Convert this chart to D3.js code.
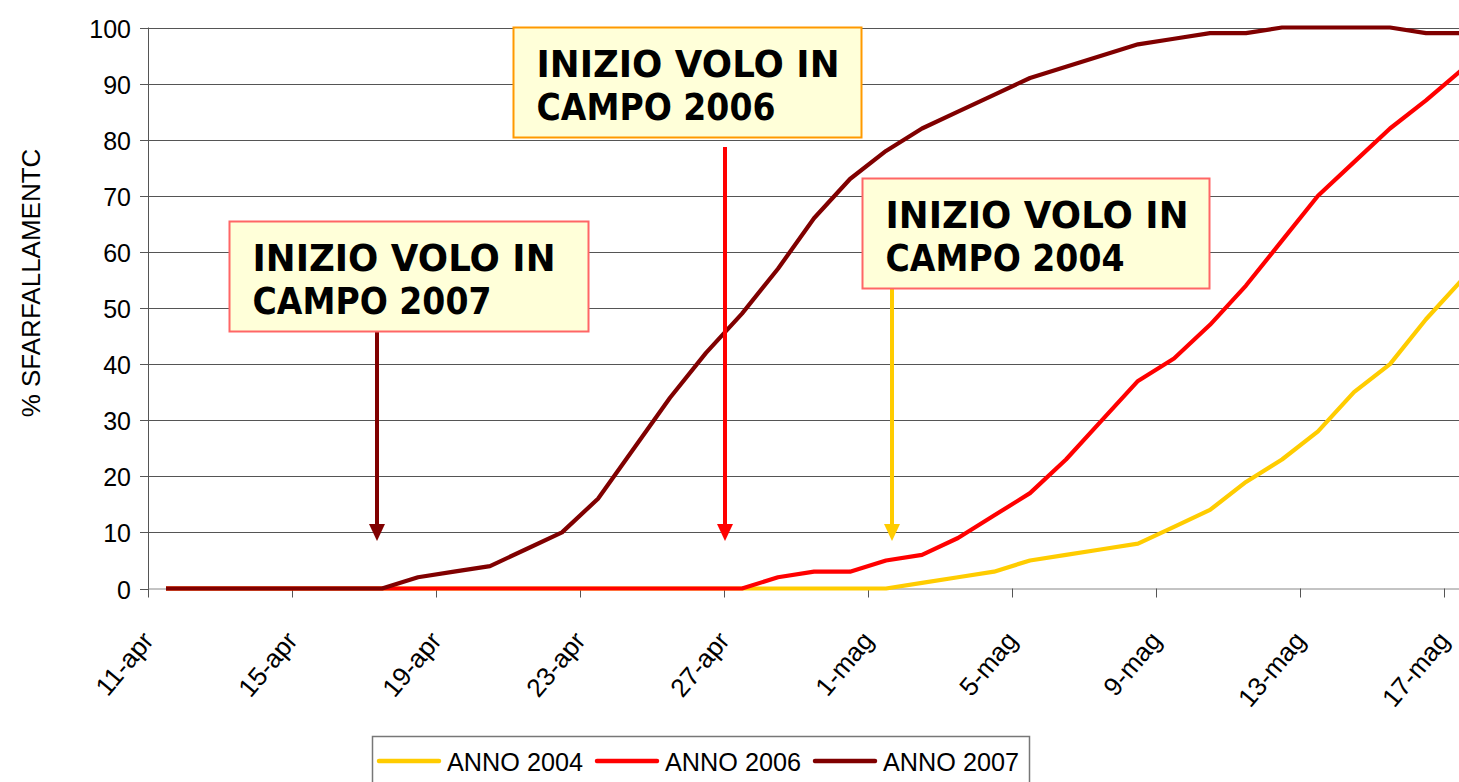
<!DOCTYPE html>
<html>
<head>
<meta charset="utf-8">
<script src="https://cdn.jsdelivr.net/npm/d3@7"></script>
<style>
  html, body { margin: 0; padding: 0; background: #ffffff; }
  svg { display: block; }
</style>
</head>
<body>
<div id="chart"></div>
<script>
// ---------- DATA ----------
const dates = [
  "11-apr","12-apr","13-apr","14-apr","15-apr","16-apr","17-apr","18-apr","19-apr","20-apr",
  "21-apr","22-apr","23-apr","24-apr","25-apr","26-apr","27-apr","28-apr","29-apr","30-apr",
  "1-mag","2-mag","3-mag","4-mag","5-mag","6-mag","7-mag","8-mag","9-mag","10-mag",
  "11-mag","12-mag","13-mag","14-mag","15-mag","16-mag","17-mag"
];
const anno2004 = [0,0,0,0,0,0,0,0,0,0, 0,0,0,0,0,0,0,0,0,0, 0,1,2,3,5,6,7,8,11,14, 19,23,28,35,40,48,55];
const anno2006 = [0,0,0,0,0,0,0,0,0,0, 0,0,0,0,0,0,0,2,3,3, 5,6,9,13,17,23,30,37,41,47, 54,62,70,76,82,87,92.5];
const anno2007 = [0,0,0,0,0,0,0,2,3,4, 7,10,16,25,34,42,49,57,66,73, 78,82,85,88,91,93,95,97,98,99, 99,100,100,100,100,99,99];
const seriesNames = ["ANNO 2004","ANNO 2006","ANNO 2007"];
const yTicks = [0,10,20,30,40,50,60,70,80,90,100];
const xTickLabels = dates.filter((d, i) => i % 4 === 0);
const yTitle = "% SFARFALLAMENTC";
const noteLines = [
  ["INIZIO VOLO IN", "CAMPO 2007"],
  ["INIZIO VOLO IN", "CAMPO 2006"],
  ["INIZIO VOLO IN", "CAMPO 2004"]
];

// ---------- LAYOUT / STYLE ----------
const W = 1459, H = 782;
const colors = ["#FFCC00", "#FF0000", "#800000"];
const plot = { left: 148, right: 1480, top: 27.5, bottom: 588.5 };
// annotation boxes & arrows (free-floating drawing shapes)
const notes = [
  { box: [229.5, 221.5, 359, 110], border: "#FF6666", arrowX: 377, color: colors[2] },
  { box: [513.5, 27.5, 348, 110], border: "#FF9900", arrowX: 725, color: colors[1], arrowTop: 147 },
  { box: [862.5, 178.5, 347, 110], border: "#FF6666", arrowX: 892, color: colors[0] }
];

const svg = d3.select("#chart").append("svg")
  .attr("width", W).attr("height", H)
  .style("font-family", "'Liberation Sans', Arial, sans-serif");
svg.append("rect").attr("width", W).attr("height", H).attr("fill", "#fff");

const x = d3.scaleBand().domain(dates).range([plot.left, plot.right]).padding(0);
const xc = d => x(d) + x.bandwidth() / 2;
const y = d3.scaleLinear().domain([0, 100]).range([plot.bottom, plot.top]);

// gridlines
svg.append("g").selectAll("line").data(yTicks.filter(t => t > 0)).join("line")
  .attr("x1", plot.left).attr("x2", plot.right)
  .attr("y1", t => Math.round(y(t)) + 0.5).attr("y2", t => Math.round(y(t)) + 0.5)
  .attr("stroke", "#555").attr("stroke-width", 1);

// y axis
const yAxis = svg.append("g");
yAxis.append("line").attr("x1", plot.left + 0.5).attr("x2", plot.left + 0.5)
  .attr("y1", plot.top).attr("y2", plot.bottom + 1).attr("stroke", "#555");
yAxis.selectAll("line.tick").data(yTicks).join("line").attr("class", "tick")
  .attr("x1", plot.left - 8).attr("x2", plot.left)
  .attr("y1", t => Math.round(y(t)) + 0.5).attr("y2", t => Math.round(y(t)) + 0.5)
  .attr("stroke", "#555");
yAxis.selectAll("text").data(yTicks).join("text")
  .attr("x", 131).attr("y", t => y(t) + 1)
  .attr("text-anchor", "end").attr("dominant-baseline", "central")
  .attr("font-size", 25).attr("fill", "#000").text(t => t);

// y title
svg.append("text")
  .attr("transform", "translate(31,283) rotate(-90)")
  .attr("text-anchor", "middle").attr("dominant-baseline", "central")
  .attr("font-size", 26).attr("fill", "#000").text(yTitle);

// x axis
const xAxis = svg.append("g");
xAxis.append("line").attr("x1", plot.left).attr("x2", plot.right)
  .attr("y1", plot.bottom + 0.5).attr("y2", plot.bottom + 0.5).attr("stroke", "#888");
xAxis.selectAll("line.tick").data(xTickLabels).join("line").attr("class", "tick")
  .attr("x1", d => Math.round(x(d)) + 0.5).attr("x2", d => Math.round(x(d)) + 0.5)
  .attr("y1", plot.bottom).attr("y2", plot.bottom + 9).attr("stroke", "#555");
xAxis.selectAll("text").data(xTickLabels).join("text")
  .attr("transform", d => `translate(${xc(d) - 18},${plot.bottom + 47}) rotate(-50)`)
  .attr("text-anchor", "end").attr("dominant-baseline", "central")
  .attr("font-size", 26).attr("fill", "#000").text(d => d);

// lines
const allSeries = [anno2004, anno2006, anno2007];
const line = d3.line().x((v, i) => xc(dates[i])).y(v => y(v));
svg.append("g").selectAll("path").data(allSeries).join("path")
  .attr("d", s => line(s))
  .attr("fill", "none")
  .attr("stroke", (s, i) => colors[i])
  .attr("stroke-width", 4.2)
  .attr("stroke-linejoin", "round");

// annotations
const ng = svg.append("g").style("font-family", "'DejaVu Sans', Verdana, sans-serif");
notes.forEach((n, k) => {
  const [bx, by, bw, bh] = n.box;
  const top = n.arrowTop !== undefined ? n.arrowTop : by + bh;
  ng.append("line").attr("x1", n.arrowX).attr("x2", n.arrowX)
    .attr("y1", top).attr("y2", 526).attr("stroke", n.color).attr("stroke-width", 4);
  ng.append("path")
    .attr("d", `M${n.arrowX - 8},524 L${n.arrowX + 8},524 L${n.arrowX},541 Z`)
    .attr("fill", n.color);
  ng.append("rect").attr("x", bx).attr("y", by).attr("width", bw).attr("height", bh)
    .attr("fill", "#FFFFD9").attr("stroke", n.border).attr("stroke-width", 2);
  const lens = [303, 239];
  noteLines[k].forEach((t, j) => {
    ng.append("text")
      .attr("x", bx + 23).attr("y", by + 49 + j * 43)
      .attr("font-size", 37).attr("font-weight", "bold").attr("fill", "#000")
      .attr("textLength", lens[j]).attr("lengthAdjust", "spacingAndGlyphs")
      .text(t);
  });
});

// legend
const lg = svg.append("g");
lg.append("rect").attr("x", 372.5).attr("y", 736.5).attr("width", 657).attr("height", 70)
  .attr("fill", "#fff").attr("stroke", "#777").attr("stroke-width", 1.5);
const legX = [379, 597, 815];
seriesNames.forEach((name, i) => {
  lg.append("line").attr("x1", legX[i]).attr("x2", legX[i] + 60)
    .attr("y1", 761).attr("y2", 761).attr("stroke", colors[i]).attr("stroke-width", 4.5)
    .attr("stroke-linecap", "round");
  lg.append("text").attr("x", legX[i] + 68).attr("y", 762)
    .attr("dominant-baseline", "central").attr("font-size", 25).attr("fill", "#000")
    .attr("textLength", 136).attr("lengthAdjust", "spacingAndGlyphs")
    .text(name);
});
</script>
</body>
</html>
